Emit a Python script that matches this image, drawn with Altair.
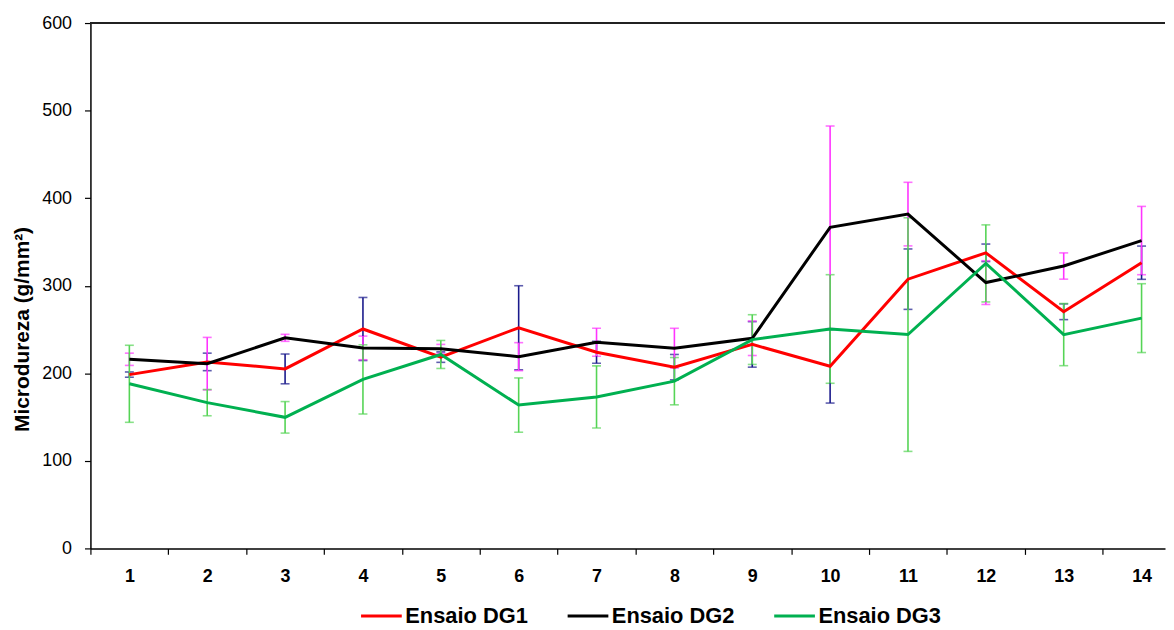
import json
import altair as alt
import pandas as pd

# ---- data ----
categories = list(range(1, 15))
series_names = ["Ensaio DG1", "Ensaio DG2", "Ensaio DG3"]

dg1 = [198.5, 213, 205, 250.6, 218.5, 252, 224, 207, 233, 208, 307.5, 337.6, 270.3, 326.3]
dg1_err = [3, 10, 17, 36, 6, 48, 12.5, 14.5, 26, 42, 34.5, 10, 9, 19]

dg2 = [216, 211, 240.5, 229, 228, 219, 235.5, 228.7, 240, 366.7, 381.8, 303.6, 322.5, 351.6]
dg2_err = [7, 30, 4, 13.5, 5, 16, 16, 22.7, 19.7, 115.7, 36.3, 25, 15, 39]

dg3 = [188, 166.5, 149.7, 193, 221.5, 163.7, 173, 191, 238.5, 250.6, 244.2, 325.5, 244.2, 263]
dg3_err = [44, 15, 18, 39.5, 16, 31, 35.5, 27, 28.4, 62, 133.4, 44, 35.5, 39.3]

y_domain = [0, 600]
y_ticks = [0, 100, 200, 300, 400, 500, 600]

line_colors = ["#FF0000", "#000000", "#00B050"]
err_colors = ["#1A1A8C", "#FF33FF", "#55D455"]

rows = []
for name, vals, errs in zip(series_names, [dg1, dg2, dg3], [dg1_err, dg2_err, dg3_err]):
    for c, v, e in zip(categories, vals, errs):
        rows.append({"pos": c, "serie": name, "valor": v, "erro": e})
df = pd.DataFrame(rows)

# ---- layout ----
W, H = 1082, 529
band_px = 78.4
x_max = 0.5 + W / band_px
FONT = "Liberation Sans"

x_scale = alt.Scale(domain=[0.5, x_max], nice=False, zero=False)
y_scale = alt.Scale(domain=y_domain, nice=False)

label_list = json.dumps([str(c) for c in categories])
x_axis = alt.Axis(
    values=[c - 0.5 for c in categories],
    labelExpr=f"{label_list}[round(datum.value - 0.5)]",
    labelOffset=band_px / 2,
    labelFlush=False,
    labelOverlap=False,
    title=None,
    grid=False,
    tickSize=6,
    tickColor="black",
    tickWidth=1.2,
    domainColor="black",
    domainWidth=1.5,
    labelFont=FONT,
    labelFontSize=18,
    labelFontWeight="bold",
    labelColor="black",
    labelPadding=13,
)

y_axis = alt.Axis(
    values=y_ticks,
    title="Microdureza (g/mm²)",
    titleFont=FONT,
    titleFontSize=21,
    titleFontWeight="bold",
    titleColor="black",
    titleAngle=270,
    titleAlign="center",
    titleBaseline="middle",
    titleX=-68.5,
    titleY=308,
    grid=False,
    tickSize=6,
    tickColor="black",
    tickWidth=1.2,
    domainColor="black",
    domainWidth=1.5,
    labelFont=FONT,
    labelFontSize=18,
    labelColor="black",
    labelPadding=13,
)

base = alt.Chart(df)

errbars = base.transform_calculate(
    lo="datum.valor - datum.erro", hi="datum.valor + datum.erro"
).mark_errorbar(ticks=True, size=9, thickness=1.6).encode(
    x=alt.X("pos:Q", scale=x_scale, axis=x_axis),
    y=alt.Y("lo:Q", scale=y_scale, axis=y_axis, title="Microdureza (g/mm²)"),
    y2="hi:Q",
    color=alt.Color("serie:N", scale=alt.Scale(domain=series_names, range=err_colors), legend=None),
)

lines = base.mark_line(strokeWidth=3).encode(
    x=alt.X("pos:Q", scale=x_scale, axis=x_axis),
    y=alt.Y("valor:Q", scale=y_scale, axis=y_axis),
    color=alt.Color(
        "serie:N",
        scale=alt.Scale(domain=series_names, range=line_colors),
        legend=alt.Legend(
            title=None,
            orient="none",
            legendX=271,
            legendY=575,
            direction="horizontal",
            symbolType="stroke",
            symbolStrokeWidth=3,
            symbolSize=1681,
            labelFont=FONT,
            labelFontSize=22,
            labelFontWeight="bold",
            labelColor="black",
            labelOffset=2,
            columnPadding=33,
            padding=0,
        ),
    ),
    order="pos:Q",
)

top_line = alt.Chart(df).mark_rule(color="#222222", strokeWidth=1.5).encode(
    y=alt.datum(y_domain[1], scale=y_scale)
)

chart = (
    alt.layer(errbars, lines, top_line)
    .resolve_scale(color="independent")
    .properties(
        width=W,
        height=H,
        autosize=alt.AutoSizeParams(type="none"),
        padding={"left": 83, "top": 13, "right": 1, "bottom": 80},
        background="white",
    )
    .configure_view(stroke=None)
)

chart.save("out.html", embed_options={"renderer": "svg", "actions": False})
